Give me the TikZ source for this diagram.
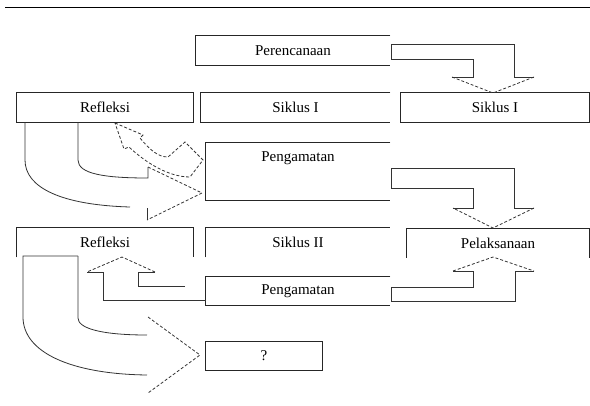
\documentclass[tikz,border=0pt]{standalone}
\usepackage{fontspec}
\setmainfont{Liberation Serif}
\begin{document}
\begin{tikzpicture}[x=1pt,y=-1pt,line width=0.8pt,
	headedge/.style={dashed,dash pattern=on 3pt off 2pt}]
	\useasboundingbox (0,0) rectangle (590,405);
	\draw (5,7.5) -- (590,7.5);
	\begin{scope}[every node/.style={inner sep=0pt,minimum height=29pt,font=\fontsize{15}{18}\selectfont,align=center}]
		\node[minimum width=194pt] (plan) at (293,50.5) {Perencanaan};
		\node[minimum width=176pt] (refA) at (105,107.5) {Refleksi};
		\node[minimum width=189pt] (sikA) at (295.5,107.5) {Siklus I};
		\node[minimum width=188pt] (sikB) at (495,107.5) {Siklus I};
		\node[minimum width=184pt,minimum height=57pt] (obsA) at (298,171.5) {Pengamatan\\[6pt]\strut};
		\node[minimum width=176pt] (refB) at (105,242.5) {Refleksi};
		\node[minimum width=184pt] (sikC) at (298,242.5) {Siklus II};
		\node[minimum width=182pt] (pel) at (498,243) {Pelaksanaan};
		\node[minimum width=184pt,minimum height=28pt] (obsB) at (298,291) {Pengamatan};
		\node[minimum width=116pt,minimum height=28pt] (unk) at (264,356) {?};
	\end{scope}
	
	\begin{scope}[every path/.style={draw=black!85}]
		\draw (plan.north east) -- (plan.north west) -- (plan.south west) -- (plan.south east);
		\draw (refA.north east) rectangle (refA.south west);
		\draw (sikA.north east) -- (sikA.north west) -- (sikA.south west) -- (sikA.south east);
		\draw (sikB.north east) rectangle (sikB.south west);
		\draw (obsA.north east) -- (obsA.north west) -- (obsA.south west) -- (obsA.south east);
		\draw (refB.south west) -- (refB.north west) -- (refB.north east) -- (refB.south east);
		\draw (sikC.south west) -- (sikC.north west) -- (sikC.north east);
		\draw (pel.south west) -- (pel.north west) -- (pel.north east) -- (pel.south east);
		\draw (obsB.north east) -- (obsB.north west) -- (obsB.south west) -- (obsB.south east);
		\draw (unk.north east) rectangle (unk.south west);
	\end{scope}
	
	\begin{scope}[every path/.style={draw=black!80}]
		\draw (391,59) -- (391,44) -- (514,44) -- (514,77) -- (534,77);
		\draw[headedge] (534,77) -- (493,93) -- (452,77);
		\draw (452,77) -- (473,77) -- (473,59) -- (391,59);
		
		\draw (391,188) -- (391,168) -- (514,168) -- (514,208) -- (534,208);
		\draw[headedge] (534,208) -- (493,228) -- (453,208);
		\draw (453,208) -- (473,208) -- (473,188) -- (391,188);
		
		\draw (391,287) -- (473,287) -- (473,271) -- (453,271);
		\draw[headedge] (453,271) -- (493,257) -- (534,271);
		\draw (534,271) -- (515,271) -- (515,301) -- (391,301) -- (391,287);
		
		\draw (185,286) -- (138,286) -- (138,272) -- (155,272);
		\draw[headedge] (155,272) -- (122,257) -- (87,272);
		\draw (87,272) -- (103,272) -- (103,300) -- (206,300);
		
		\draw (25,122) -- (25,160) .. controls (25,188) and (62,205) .. (130,207);
		\draw (78,122) -- (78,160) .. controls (78,174) and (105,178) .. (148,178) -- (148,167);
		\draw[headedge] (148,167) -- (202,193) -- (147,220);
		\draw (147,220) -- (147,208);
		
		\draw (78,256) -- (23,256) -- (23,317) .. controls (23,352) and (70,374) .. (147,375);
		\draw (78,256) -- (78,318) .. controls (78,328) and (100,335) .. (147,335);
		\draw[headedge] (148,317) -- (200,355) -- (148,393);
		
		\draw[headedge] (115,123) -- (143,135) -- (140,138) .. controls (150,150) and (158,157) .. (168,157) -- (185,142) -- (203,160) -- (190,177) .. controls (168,177) and (145,162) .. (129,147) -- (124,149) -- cycle;
	\end{scope}
\end{tikzpicture}
\end{document}
